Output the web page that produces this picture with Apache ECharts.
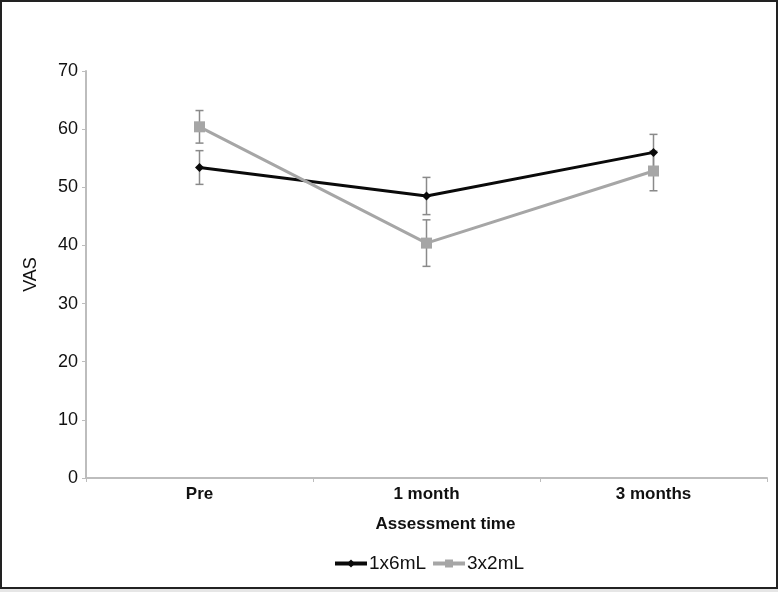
<!DOCTYPE html>
<html>
<head>
<meta charset="utf-8">
<script src="https://cdn.jsdelivr.net/npm/echarts@6/dist/echarts.min.js"></script>
<style>
html,body{margin:0;padding:0;background:#fff;}
#wrap{position:relative;width:778px;height:592px;background:#e6e6e6;}
#chart{position:absolute;left:0;top:0;width:778px;height:589px;background:#fff;}
#frame{position:absolute;left:0;top:0;width:774px;height:585px;border:2px solid #222;pointer-events:none;}
</style>
</head>
<body>
<div id="wrap"><div id="chart"></div><div id="frame"></div></div>
<script>
var categories = ['Pre', '1 month', '3 months'];
var yTicks = [0, 10, 20, 30, 40, 50, 60, 70];
var seriesNames = ['1x6mL', '3x2mL'];
var mean1x6 = [53.4, 48.5, 56.0];
var err1x6 = [2.9, 3.2, 3.1];
var mean3x2 = [60.4, 40.4, 52.8];
var err3x2 = [2.8, 4.0, 3.4];

var FONT = '"Liberation Sans", Arial, Helvetica, sans-serif';
var chart = echarts.init(document.getElementById('chart'), null, {renderer: 'canvas'});

function errData(means, errs) {
  return means.map(function (m, i) { return [i, m - errs[i], m + errs[i]]; });
}
function errSeries(means, errs) {
  return {
    type: 'custom',
    silent: true,
    z: 1,
    data: errData(means, errs),
    renderItem: function (params, api) {
      var x = api.value(0);
      var lo = api.coord([x, api.value(1)]);
      var hi = api.coord([x, api.value(2)]);
      var w = 4;
      var st = {stroke: '#8a8a8a', lineWidth: 1.5};
      return {
        type: 'group',
        children: [
          {type: 'line', shape: {x1: lo[0], y1: lo[1], x2: hi[0], y2: hi[1]}, style: st},
          {type: 'line', shape: {x1: lo[0] - w, y1: lo[1], x2: lo[0] + w, y2: lo[1]}, style: st},
          {type: 'line', shape: {x1: hi[0] - w, y1: hi[1], x2: hi[0] + w, y2: hi[1]}, style: st}
        ]
      };
    }
  };
}

chart.setOption({
  animation: false,
  backgroundColor: '#fff',
  textStyle: {fontFamily: FONT},
  grid: {left: 86, right: 11, top: 71, bottom: 111, containLabel: false},
  legend: {
    data: seriesNames,
    bottom: 11,
    left: 328,
    itemWidth: 32,
    itemHeight: 10,
    itemGap: 5,
    lineStyle: {width: 4},
    textStyle: {fontFamily: FONT, fontSize: 19, color: '#111', padding: [0, 0, 0, -3]}
  },
  xAxis: {
    type: 'category',
    data: categories,
    boundaryGap: true,
    name: 'Assessment time',
    nameLocation: 'middle',
    nameGap: 38,
    nameTextStyle: {fontFamily: FONT, fontSize: 17, fontWeight: 'bold', color: '#111', padding: [0, 0, 0, 38]},
    axisLine: {lineStyle: {color: '#bdbdbd', width: 2}},
    axisTick: {show: true, length: 4, lineStyle: {color: '#bdbdbd'}},
    axisLabel: {fontFamily: FONT, fontSize: 17, fontWeight: 'bold', color: '#111', margin: 8}
  },
  yAxis: {
    type: 'value',
    min: 0,
    max: 70,
    interval: 10,
    name: 'VAS',
    nameLocation: 'middle',
    nameGap: 46,
    nameTextStyle: {fontFamily: FONT, fontSize: 18, color: '#111'},
    axisLine: {show: true, lineStyle: {color: '#bdbdbd', width: 2}},
    axisTick: {show: true, length: 4, lineStyle: {color: '#bdbdbd'}},
    splitLine: {show: false},
    axisLabel: {fontFamily: FONT, fontSize: 18, color: '#111', margin: 8,
      formatter: function (v) { return yTicks.indexOf(v) >= 0 ? String(v) : ''; }}
  },
  series: [
    errSeries(mean1x6, err1x6),
    errSeries(mean3x2, err3x2),
    {
      name: seriesNames[0],
      type: 'line',
      data: mean1x6,
      z: 3,
      symbol: 'diamond',
      symbolSize: 9,
      lineStyle: {color: '#0a0a0a', width: 3},
      itemStyle: {color: '#0a0a0a'}
    },
    {
      name: seriesNames[1],
      type: 'line',
      data: mean3x2,
      z: 4,
      symbol: 'rect',
      symbolSize: 11,
      lineStyle: {color: '#a6a6a6', width: 3},
      itemStyle: {color: '#a6a6a6'}
    }
  ]
});
</script>
</body>
</html>
